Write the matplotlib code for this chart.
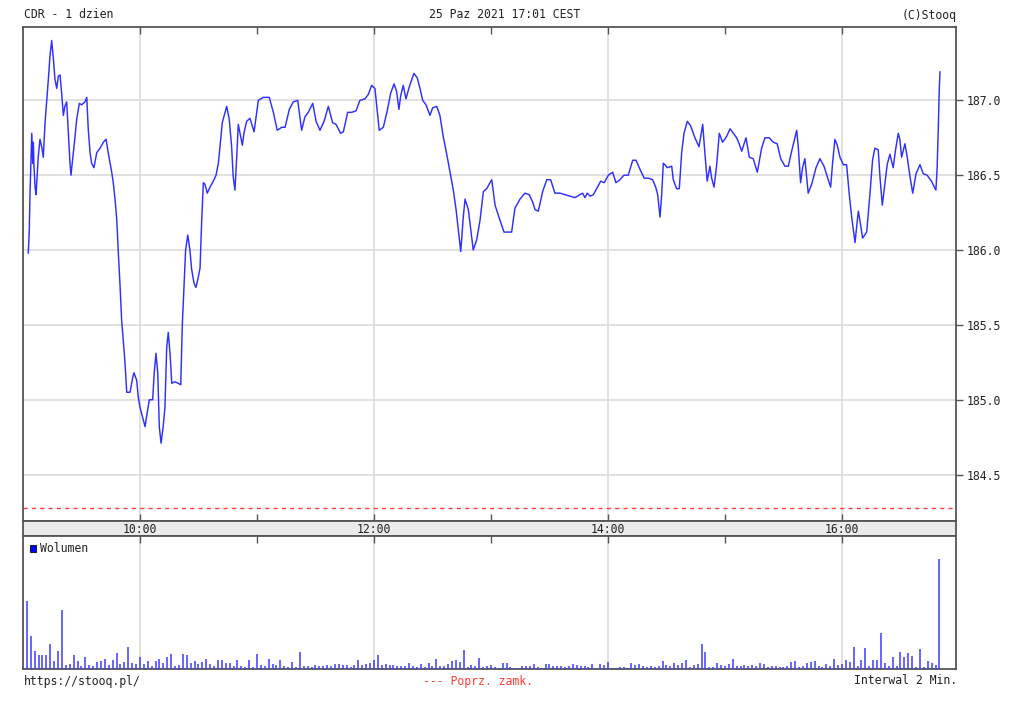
import matplotlib
matplotlib.use("Agg")
import matplotlib.pyplot as plt
from matplotlib.patches import Rectangle

# ---------------- data ----------------
# price vertices: minutes after 09:00, price (PLN)
price_minutes = [2.7, 3.2, 3.6, 4.5, 5.0, 5.3, 5.6, 6.2, 6.7, 7.8, 8.7, 9.6, 10.4, 11.3, 12.2, 13.0, 13.8, 14.7,
                 15.5, 16.4, 17.3, 18.1, 19.0, 19.8, 20.7, 21.5, 22.4, 23.2, 24.1, 24.6, 25.8, 26.7, 27.5, 28.9,
                 30.1, 30.9, 31.8, 32.7, 33.5, 34.4, 35.2, 36.4, 37.8, 39.5, 41.2, 42.6, 43.7, 45.5, 46.3, 47.2,
                 48.1, 48.9, 49.7, 50.6, 51.4, 52.3, 53.2, 54.9, 56.3, 56.9, 58.3, 59.1, 60.0, 61.4, 62.6, 63.4,
                 64.8, 66.5, 67.3, 68.2, 69.1, 69.9, 70.8, 71.9, 72.8, 73.7, 74.5, 75.4, 76.3, 77.9, 79.6, 80.9,
                 81.7, 82.6, 83.4, 84.5, 85.6, 86.5, 87.7, 88.7, 89.9, 90.8, 91.6, 92.5, 93.3, 94.5, 95.9, 97.6,
                 99.0, 100.2, 101.0, 102.2, 103.2, 104.5, 105.8, 107.0, 107.8, 108.7, 109.6, 110.4, 111.3, 112.5,
                 113.3, 114.7, 116.4, 118.5, 120.7, 123.2, 126.3, 128.4, 130.4, 132.7, 134.4, 136.6, 138.6, 140.9,
                 142.9, 144.6, 146.3, 148.6, 150.3, 152.3, 154.4, 156.6, 158.8, 160.5, 162.9, 164.3, 166.5, 168.6,
                 170.8, 172.8, 175.4, 177.1, 178.8, 180.5, 182.7, 184.8, 186.8, 188.6, 190.3, 191.6, 192.8, 193.7,
                 195.0, 196.4, 198.1, 200.5, 202.2, 203.6, 205.0, 206.7, 208.7, 210.1, 212.2, 213.8, 215.5, 217.6,
                 219.3, 220.7, 222.1, 223.2, 224.5, 225.8, 226.7, 228.4, 229.6, 230.9, 232.7, 234.4, 236.1, 237.8,
                 240.4, 242.1, 244.6, 246.7, 248.9, 250.6, 252.3, 254.9, 257.4, 259.6, 261.4, 262.6, 264.3, 266.5,
                 268.6, 270.6, 272.8, 275.4, 277.9, 280.5, 283.1, 285.6, 287.0, 288.2, 289.4, 290.8, 292.5, 294.2,
                 296.3, 298.1, 300.2, 302.4, 304.1, 306.2, 308.2, 310.4, 312.7, 314.4, 316.4, 318.6, 320.7, 322.9,
                 324.5, 325.5, 326.7, 327.5, 328.4, 329.2, 330.4, 332.7, 333.5, 335.2, 336.6, 337.8, 339.0, 340.7,
                 342.4, 344.6, 346.7, 348.6, 349.7, 350.9, 352.3, 353.2, 354.4, 355.7, 357.1, 358.8, 360.9, 362.6,
                 364.3, 366.0, 367.3, 368.6, 370.8, 372.5, 374.5, 376.6, 378.8, 380.5, 382.7, 384.8, 386.8, 388.6,
                 390.8, 392.5, 394.2, 396.8, 397.6, 398.8, 399.8, 401.0, 402.7, 404.5, 406.7, 408.7, 410.8, 412.5,
                 414.2, 415.2, 416.4, 417.6, 419.0, 420.7, 422.4, 423.7, 425.0, 426.7, 428.4, 429.2, 430.6, 432.7,
                 434.4, 435.7, 436.9, 438.6, 439.5, 440.7, 442.1, 443.2, 444.6, 446.3, 447.5, 448.9, 449.7, 450.6,
                 452.3, 453.5, 454.9, 456.3, 458.0, 460.0, 461.7, 463.7, 465.9, 468.2, 468.8, 469.4, 469.9, 470.3]
price_values = [185.98, 186.12, 186.38, 186.78, 186.58, 186.72, 186.57, 186.42, 186.37, 186.62, 186.74, 186.69,
                186.62, 186.85, 187.00, 187.14, 187.29, 187.40, 187.29, 187.14, 187.08, 187.16, 187.17, 187.05,
                186.90, 186.96, 186.99, 186.80, 186.58, 186.50, 186.65, 186.76, 186.87, 186.98, 186.97, 186.98,
                186.99, 187.02, 186.80, 186.65, 186.58, 186.55, 186.65, 186.68, 186.72, 186.74, 186.65, 186.52,
                186.45, 186.34, 186.20, 185.98, 185.78, 185.53, 185.40, 185.25, 185.05, 185.05, 185.15, 185.18,
                185.13, 185.02, 184.95, 184.88, 184.82, 184.89, 185.00, 185.00, 185.18, 185.31, 185.18, 184.82,
                184.71, 184.82, 184.95, 185.35, 185.45, 185.31, 185.11, 185.12, 185.11, 185.10, 185.50, 185.76,
                186.00, 186.10, 186.00, 185.87, 185.78, 185.75, 185.82, 185.88, 186.18, 186.45, 186.44, 186.38,
                186.42, 186.46, 186.50, 186.58, 186.69, 186.85, 186.90, 186.96, 186.87, 186.69, 186.49, 186.40,
                186.62, 186.84, 186.78, 186.70, 186.78, 186.86, 186.88, 186.79, 187.00, 187.02, 187.02, 186.92,
                186.80, 186.82, 186.82, 186.94, 186.99, 187.00, 186.80, 186.89, 186.92, 186.98, 186.86, 186.80,
                186.86, 186.96, 186.85, 186.84, 186.78, 186.79, 186.92, 186.92, 186.93, 187.00, 187.01, 187.04,
                187.10, 187.08, 186.80, 186.82, 186.93, 187.05, 187.11, 187.06, 186.94, 187.03, 187.10, 187.01,
                187.09, 187.18, 187.15, 187.08, 187.00, 186.97, 186.90, 186.95, 186.96, 186.90, 186.76, 186.62,
                186.50, 186.40, 186.27, 186.14, 185.99, 186.22, 186.34, 186.27, 186.14, 186.00, 186.07, 186.20,
                186.39, 186.41, 186.47, 186.30, 186.20, 186.12, 186.12, 186.12, 186.28, 186.34, 186.38, 186.37,
                186.32, 186.27, 186.26, 186.39, 186.47, 186.47, 186.38, 186.38, 186.37, 186.36, 186.35, 186.37,
                186.38, 186.35, 186.38, 186.36, 186.37, 186.41, 186.46, 186.45, 186.50, 186.52, 186.45, 186.47,
                186.50, 186.50, 186.60, 186.60, 186.54, 186.48, 186.48, 186.47, 186.42, 186.37, 186.22, 186.36,
                186.58, 186.57, 186.55, 186.56, 186.47, 186.41, 186.41, 186.65, 186.78, 186.86, 186.83, 186.75,
                186.69, 186.84, 186.65, 186.46, 186.56, 186.48, 186.42, 186.56, 186.78, 186.72, 186.76, 186.81,
                186.78, 186.75, 186.71, 186.66, 186.75, 186.62, 186.61, 186.52, 186.68, 186.75, 186.75, 186.72,
                186.71, 186.61, 186.56, 186.56, 186.66, 186.80, 186.69, 186.45, 186.55, 186.61, 186.38, 186.44,
                186.55, 186.61, 186.56, 186.49, 186.42, 186.58, 186.74, 186.70, 186.62, 186.57, 186.57, 186.38,
                186.22, 186.05, 186.26, 186.20, 186.08, 186.12, 186.38, 186.60, 186.68, 186.67, 186.49, 186.30,
                186.45, 186.57, 186.64, 186.55, 186.67, 186.78, 186.74, 186.62, 186.71, 186.62, 186.49, 186.38,
                186.51, 186.57, 186.51, 186.50, 186.46, 186.40, 186.54, 186.80, 187.07, 187.19]

prev_close = 184.28

# volume per 2-minute interval (arbitrary units), first bar at 09:02
volume_values = [67, 33, 18, 14, 14, 14, 25, 8, 18, 59, 4, 5, 14, 8, 3, 12, 4, 3, 7, 8,
                 10, 4, 9, 16, 5, 7, 22, 6, 5, 12,
                 5, 8, 3, 8, 10, 6, 12, 15, 3, 4, 15, 14, 6, 8, 5, 7, 10, 5, 3, 9,
                 9, 6, 6, 3, 9, 3, 2, 9, 2, 15, 4, 3, 10, 5, 4, 9, 3, 2, 7, 2,
                 17, 3, 3, 2, 4, 3, 3, 4, 3, 5, 5, 4, 4, 2, 4, 9, 4, 5, 6, 9,
                 14, 4, 5, 4, 4, 3, 3, 3, 6, 3, 2, 5, 2, 6, 3, 10, 3, 3, 5, 8,
                 9, 7, 19, 2, 4, 3, 11, 2, 3, 4, 2, 1, 6, 6, 2, 1, 1, 3, 3, 3,
                 5, 2, 1, 5, 5, 3, 3, 3, 2, 3, 5, 4, 3, 3, 2, 5, 1, 5, 4, 7,
                 1, 1, 2, 2, 1, 6, 4, 5, 3, 2, 3, 2, 3, 8, 4, 3, 6, 4, 6, 9,
                 2, 4, 5, 25, 17, 2, 2, 6, 4, 3, 5, 10, 3, 3, 4, 3, 4, 3, 6, 5,
                 2, 3, 3, 2, 2, 3, 7, 8, 2, 3, 6, 7, 8, 3, 2, 5, 3, 10, 4, 5,
                 9, 7, 22, 3, 9, 21, 3, 9, 9, 36, 6, 3, 12, 3, 17, 12, 16, 13, 2, 20,
                 2, 8, 6, 4, 109]
vol_first_minute = 2
vol_interval = 2

hour_ticks = [60, 120, 180, 240, 300, 360, 420]
grid_hours = [60, 180, 300, 420]
grid_labels = ["10:00", "12:00", "14:00", "16:00"]
price_ticks = [184.5, 185.0, 185.5, 186.0, 186.5, 187.0]

# ---------------- styling ----------------
W, H = 1024, 713
FONT = "DejaVu Sans Mono"
FS = 8.3
BLUE = "#2f2fff"
GRID = "#dcdcdc"
FRAME = "#555555"

fig = plt.figure(figsize=(W / 100, H / 100), dpi=100)

def fx(px):
    return px / W

def fy(py):
    return 1 - py / H

X_MIN, X_MAX = 0, 478.5
left, right = 23, 956
ax = fig.add_axes([fx(left), fy(521), fx(right - left), fy(27) - fy(521)])
band = fig.add_axes([fx(left), fy(536), fx(right - left), fy(521) - fy(536)])
axv = fig.add_axes([fx(left), fy(669), fx(right - left), fy(536) - fy(669)])

for a in (ax, band, axv):
    a.set_xlim(X_MIN, X_MAX)
    for s in a.spines.values():
        s.set_color(FRAME)
        s.set_linewidth(1.3)

# price panel
ax.set_ylim(184.19, 187.49)
for y in price_ticks:
    ax.axhline(y, color=GRID, lw=1.2, zorder=0)
for x in grid_hours:
    ax.axvline(x, color=GRID, lw=1.2, zorder=0)
ax.plot(price_minutes, price_values, color=BLUE, lw=1.05, zorder=3)
ax.axhline(prev_close, color="#ff3b3b", lw=1.0, dashes=(3, 3), zorder=2)
ax.yaxis.tick_right()
ax.set_yticks(price_ticks)
ax.set_yticklabels([f"{v:.1f}" for v in price_ticks], fontfamily=FONT, fontsize=FS, color="#222222")
ax.tick_params(axis="y", direction="out", length=5, width=1, color=FRAME, pad=3)
ax.set_xticks(hour_ticks)
ax.set_xticklabels([])
ax.tick_params(axis="x", direction="in", length=5, width=1, color=FRAME, top=True, bottom=True)

# time band
band.set_facecolor("#ebebeb")
band.set_ylim(0, 1)
band.set_yticks([])
band.set_xticks([])
for x, lab in zip(grid_hours, grid_labels):
    band.text(x, 0.45, lab, ha="center", va="center", fontfamily=FONT, fontsize=FS, color="#222222")

# volume panel
vol_minutes = [vol_first_minute + vol_interval * i for i in range(len(volume_values))]
axv.set_ylim(0, 132)
for x in grid_hours:
    axv.axvline(x, color=GRID, lw=1.2, zorder=0)
axv.vlines(vol_minutes, 0, volume_values, colors="#3c3cff", lw=1.1, zorder=3)
axv.set_yticks([])
axv.set_xticks(hour_ticks)
axv.set_xticklabels([])
axv.tick_params(axis="x", direction="in", length=5, width=1, color=FRAME, top=True, bottom=False)
axv.add_patch(Rectangle((0.008, 0.88), 0.006, 0.05, transform=axv.transAxes,
                        facecolor="#0000ff", edgecolor="#222222", lw=0.8, zorder=5))
axv.text(0.018, 0.905, "Wolumen", transform=axv.transAxes, ha="left", va="center",
         fontfamily=FONT, fontsize=FS, color="#222222")

# header / footer texts
fig.text(fx(24), fy(15), "CDR - 1 dzien", ha="left", va="center", fontfamily=FONT, fontsize=FS, color="#222222")
fig.text(fx(505), fy(15), "25 Paz 2021 17:01 CEST", ha="center", va="center", fontfamily=FONT, fontsize=FS, color="#222222")
fig.text(fx(957), fy(15), "(C)Stooq", ha="right", va="center", fontfamily=FONT, fontsize=FS, color="#222222")
fig.text(fx(24), fy(681), "https://stooq.pl/", ha="left", va="center", fontfamily=FONT, fontsize=FS, color="#222222")
fig.text(fx(478), fy(681), "--- Poprz. zamk.", ha="center", va="center", fontfamily=FONT, fontsize=FS, color="#ff3b3b")
fig.text(fx(957), fy(681), "Interwal 2 Min.", ha="right", va="center", fontfamily=FONT, fontsize=FS, color="#222222")

fig.savefig("out.png", dpi=100)
